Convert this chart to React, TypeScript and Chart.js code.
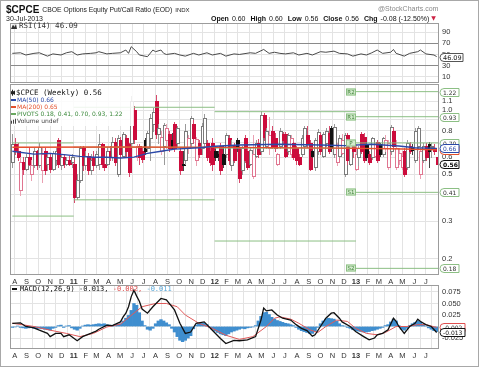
import React, { useEffect, useRef } from "react";
import { Chart, registerables } from "chart.js";

Chart.register(...registerables);

const SANS = '"Liberation Sans", Arial, sans-serif';
const DJ = '"DejaVu Sans", Verdana, sans-serif';
const MONO = '"DejaVu Sans Mono", monospace';

// ---------- DATA ----------
// Weekly candles: week 0 = week of 26-Jul-2010 ... week 157 = week of 29-Jul-2013
const OPEN = [
  0.57, 0.69, 0.64, 0.42, 0.57, 0.53, 0.60, 0.50, 0.55, 0.64,
  0.55, 0.52, 0.64, 0.56, 0.60, 0.53, 0.58, 0.72, 0.55, 0.60,
  0.56, 0.58, 0.57, 0.56, 0.39, 0.47, 0.66, 0.55, 0.61, 0.52,
  0.60, 0.55, 0.56, 0.69, 0.56, 0.56, 0.64, 0.60, 0.71, 0.50,
  0.72, 0.61, 0.74, 0.69, 0.70, 1.00, 0.60, 0.68, 0.64, 0.72,
  0.66, 0.74, 0.86, 1.10, 0.77, 0.64, 0.68, 0.72, 0.77, 0.72,
  0.86, 0.70, 0.64, 0.56, 0.58, 0.66, 0.70, 0.86, 0.58, 0.70,
  0.66, 0.70, 0.70, 0.64, 0.70, 0.64, 0.62, 0.68, 0.62, 0.62,
  0.74, 0.55, 0.68, 0.72, 0.67, 0.52, 0.74, 0.64, 0.56, 0.49,
  0.61, 0.70, 0.64, 0.95, 0.68, 0.66, 0.80, 0.74, 0.56, 0.68,
  0.77, 0.77, 0.64, 0.62, 0.70, 0.66, 0.60, 0.62, 0.68, 0.76,
  0.70, 0.64, 0.54, 0.64, 0.76, 0.61, 0.70, 0.78, 0.82, 0.62,
  0.57, 0.61, 0.63, 0.50, 0.76, 0.56, 0.70, 0.53, 0.60, 0.77,
  0.75, 0.69, 0.62, 0.60, 0.61, 0.71, 0.69, 0.62, 0.66, 0.54,
  0.64, 0.80, 0.54, 0.58, 0.54, 0.64, 0.54, 0.68, 0.67, 0.58,
  0.68, 0.50, 0.58, 0.68, 0.69, 0.66, 0.66, 0.60,
];
const HIGH = [
  0.77, 0.74, 0.70, 0.60, 0.60, 0.62, 0.67, 0.58, 0.66, 0.65,
  0.70, 0.66, 0.66, 0.62, 0.62, 0.64, 0.66, 0.74, 0.62, 0.62,
  0.60, 0.61, 0.62, 0.58, 0.50, 0.68, 0.68, 0.64, 0.63, 0.62,
  0.64, 0.64, 0.77, 0.70, 0.60, 0.67, 0.68, 0.75, 0.74, 0.76,
  0.75, 0.79, 0.76, 0.70, 1.16, 1.05, 0.69, 0.69, 0.66, 0.74,
  0.80, 0.96, 1.02, 1.18, 0.86, 0.80, 0.87, 0.86, 0.80, 0.78,
  0.88, 0.84, 0.66, 0.64, 0.86, 0.76, 0.94, 0.90, 0.75, 0.72,
  0.87, 0.96, 0.72, 0.66, 0.74, 0.66, 0.64, 0.70, 0.68, 0.78,
  0.76, 0.72, 0.70, 0.74, 0.69, 0.68, 0.76, 0.66, 0.67, 0.76,
  0.72, 0.73, 0.99, 0.97, 0.82, 0.93, 0.84, 0.78, 0.63, 0.82,
  0.79, 0.79, 0.78, 0.76, 0.71, 0.68, 0.62, 0.76, 0.84, 0.84,
  0.72, 0.65, 0.74, 0.81, 0.78, 0.79, 0.82, 0.84, 0.84, 0.86,
  0.70, 0.76, 0.77, 0.78, 0.78, 0.72, 0.72, 0.69, 0.68, 0.79,
  0.78, 0.71, 0.64, 0.75, 0.70, 0.72, 0.70, 0.75, 0.76, 0.72,
  0.85, 0.82, 0.72, 0.66, 0.64, 0.66, 0.72, 0.71, 0.69, 0.82,
  0.84, 0.66, 0.70, 0.70, 0.71, 0.70, 0.69, 0.60,
];
const LOW = [
  0.54, 0.62, 0.58, 0.40, 0.50, 0.52, 0.55, 0.47, 0.54, 0.53,
  0.54, 0.46, 0.50, 0.52, 0.51, 0.52, 0.55, 0.54, 0.53, 0.54,
  0.55, 0.55, 0.54, 0.37, 0.38, 0.46, 0.52, 0.53, 0.50, 0.50,
  0.52, 0.54, 0.53, 0.54, 0.52, 0.55, 0.58, 0.58, 0.55, 0.49,
  0.60, 0.60, 0.60, 0.49, 0.68, 0.70, 0.58, 0.56, 0.57, 0.62,
  0.64, 0.58, 0.80, 0.74, 0.70, 0.62, 0.56, 0.66, 0.64, 0.66,
  0.64, 0.68, 0.50, 0.52, 0.56, 0.63, 0.68, 0.70, 0.55, 0.60,
  0.62, 0.66, 0.58, 0.55, 0.52, 0.58, 0.58, 0.50, 0.54, 0.60,
  0.56, 0.52, 0.57, 0.64, 0.46, 0.50, 0.57, 0.53, 0.55, 0.48,
  0.60, 0.60, 0.62, 0.72, 0.66, 0.62, 0.66, 0.64, 0.55, 0.66,
  0.70, 0.60, 0.62, 0.60, 0.59, 0.56, 0.55, 0.61, 0.66, 0.67,
  0.52, 0.60, 0.52, 0.62, 0.62, 0.60, 0.68, 0.63, 0.64, 0.60,
  0.55, 0.60, 0.62, 0.49, 0.56, 0.55, 0.60, 0.52, 0.55, 0.63,
  0.57, 0.58, 0.56, 0.59, 0.60, 0.57, 0.61, 0.61, 0.64, 0.53,
  0.62, 0.66, 0.53, 0.56, 0.53, 0.49, 0.53, 0.63, 0.62, 0.57,
  0.66, 0.48, 0.57, 0.58, 0.54, 0.60, 0.62, 0.56,
];
const CLOSE = [
  0.69, 0.64, 0.60, 0.57, 0.53, 0.60, 0.56, 0.55, 0.64, 0.55,
  0.67, 0.62, 0.52, 0.60, 0.53, 0.63, 0.64, 0.56, 0.60, 0.56,
  0.58, 0.56, 0.60, 0.39, 0.47, 0.66, 0.55, 0.61, 0.52, 0.58,
  0.55, 0.62, 0.69, 0.56, 0.54, 0.64, 0.60, 0.71, 0.57, 0.74,
  0.62, 0.77, 0.64, 0.51, 1.10, 0.73, 0.68, 0.60, 0.59, 0.64,
  0.78, 0.92, 0.98, 0.77, 0.82, 0.75, 0.85, 0.82, 0.66, 0.68,
  0.66, 0.82, 0.52, 0.55, 0.80, 0.74, 0.92, 0.74, 0.73, 0.62,
  0.84, 0.92, 0.60, 0.57, 0.56, 0.60, 0.61, 0.52, 0.56, 0.76,
  0.58, 0.68, 0.58, 0.67, 0.48, 0.66, 0.58, 0.54, 0.65, 0.62,
  0.70, 0.62, 0.95, 0.75, 0.80, 0.76, 0.67, 0.66, 0.62, 0.80,
  0.72, 0.61, 0.76, 0.74, 0.60, 0.58, 0.56, 0.74, 0.82, 0.69,
  0.53, 0.61, 0.72, 0.79, 0.64, 0.77, 0.80, 0.64, 0.66, 0.83,
  0.68, 0.74, 0.72, 0.76, 0.58, 0.70, 0.64, 0.62, 0.66, 0.64,
  0.58, 0.60, 0.57, 0.74, 0.69, 0.58, 0.62, 0.74, 0.72, 0.70,
  0.83, 0.68, 0.66, 0.63, 0.61, 0.50, 0.70, 0.64, 0.65, 0.80,
  0.82, 0.64, 0.68, 0.60, 0.64, 0.68, 0.64, 0.56,
];

// Moving averages (week index, value)
const MA50_WEEK = [0, 8, 14, 20, 25, 30, 35, 40, 45, 50, 55, 60, 69, 75, 84, 99, 114, 123, 133, 143, 149, 157];
const MA50_VAL = [0.64, 0.62, 0.625, 0.615, 0.605, 0.6, 0.6, 0.595, 0.6, 0.625, 0.64, 0.655, 0.665, 0.675, 0.685, 0.69, 0.685, 0.68, 0.69, 0.677, 0.665, 0.66];
const MA200_WEEK = [0, 40, 80, 120, 140, 157];
const MA200_VAL = [0.668, 0.67, 0.667, 0.662, 0.657, 0.65];

// Yearly pivots: 2010, 2011, 2012, 2013
const PIVOT_R2 = [null, null, null, 1.22];
const PIVOT_R1 = [null, 1.03, 0.982, 0.93];
const PIVOT_P = [0.7, 0.668, 0.662, 0.7];
const PIVOT_S1 = [0.317, 0.378, null, 0.41];
const PIVOT_S2 = [null, null, 0.242, 0.18];

// RSI(14)
const RSI_WEEK = [0, 3, 5, 8, 10, 13, 15, 18, 20, 22, 24, 26, 29, 31, 32, 35, 37, 40, 42, 43, 44, 46, 47, 50, 52, 53, 55, 56, 57, 60, 62, 64, 67, 69, 72, 74, 77, 79, 82, 84, 88, 90, 93, 95, 97, 99, 101, 104, 106, 109, 111, 114, 116, 119, 121, 124, 126, 129, 131, 133, 135, 137, 140, 141, 142, 145, 147, 150, 151, 153, 156, 157];
const RSI_VAL = [52, 53, 49, 52, 53, 47, 51, 49, 53, 55, 49, 51, 52, 53, 55, 51, 52, 53, 58, 52, 64, 55, 49, 46, 58, 55, 58, 52, 50, 52, 49, 47, 52, 49, 53, 49, 52, 47, 51, 50, 53, 52, 59, 52, 54, 52, 51, 53, 49, 52, 49, 55, 54, 56, 52, 51, 47, 51, 49, 53, 58, 52, 54, 59, 52, 47, 52, 55, 58, 51, 49, 46.09];

// MACD(12,26,9)
const MACD_WEEK = [0, 3, 5, 8, 10, 13, 14, 16, 18, 19, 21, 24, 26, 29, 31, 32, 35, 37, 40, 41, 42, 43, 44, 45, 46, 47, 48, 50, 52, 55, 57, 60, 62, 64, 66, 68, 71, 72, 74, 77, 79, 82, 84, 87, 90, 92, 93, 94, 96, 98, 100, 103, 105, 107, 109, 111, 112, 114, 116, 118, 119, 121, 122, 125, 127, 130, 132, 134, 135, 137, 139, 141, 142, 143, 145, 147, 149, 150, 151, 153, 155, 157];
const MACD_VAL = [0.007, 0.008, 0, -0.003, -0.008, -0.015, -0.022, -0.015, -0.015, -0.022, -0.018, -0.031, -0.022, -0.015, -0.01, -0.006, 0.003, 0.002, 0.01, 0.021, 0.029, 0.043, 0.065, 0.079, 0.066, 0.055, 0.038, 0.029, 0.043, 0.061, 0.058, 0.036, 0.007, -0.015, -0.012, 0.007, 0.01, 0.004, -0.008, -0.026, -0.037, -0.03, -0.031, -0.029, -0.022, 0.014, 0.04, 0.034, 0.036, 0.025, 0.018, 0.014, 0.004, -0.004, -0.009, -0.021, -0.018, 0, 0.018, 0.029, 0.03, 0.018, 0.01, 0, -0.011, -0.022, -0.029, -0.025, -0.018, -0.015, -0.007, 0.018, 0.011, 0, -0.015, 0, 0.007, 0.016, 0.011, 0.004, 0, -0.013];
const SIGNAL_WEEK = [0, 8, 14, 20, 25, 30, 35, 40, 45, 48, 53, 57, 61, 64, 69, 74, 79, 84, 89, 94, 97, 99, 103, 106, 110, 113, 116, 120, 124, 127, 131, 135, 138, 142, 146, 150, 153, 157];
const SIGNAL_VAL = [0.007, 0, -0.008, -0.015, -0.022, -0.015, -0.001, 0.005, 0.029, 0.043, 0.05, 0.05, 0.043, 0.025, 0.007, -0.004, -0.019, -0.028, -0.022, 0, 0.018, 0.021, 0.016, 0.007, -0.007, -0.013, 0, 0.014, 0.011, -0.004, -0.015, -0.018, -0.013, 0, 0, 0.004, 0.004, -0.002];
const HIST = [
  -0.002, -0.001, 0.001, -0.002, -0.003, -0.004, -0.003, -0.002, -0.004, -0.005,
  -0.004, -0.005, -0.006, -0.007, -0.008, -0.004, -0.002, 0.002, 0.003, -0.002,
  0.001, 0.002, -0.003, -0.006, -0.008, -0.004, 0.001, 0.003, 0.004, 0.003,
  0.004, 0.005, 0.006, 0.005, 0.006, 0.004, 0.003, 0.002, 0.004, 0.005,
  0.006, 0.012, 0.018, 0.024, 0.035, 0.05, 0.046, 0.03, 0.012, 0.002,
  -0.006, -0.008, -0.004, 0.006, 0.012, 0.015, 0.012, 0.008, 0.004, -0.004,
  -0.012, -0.022, -0.03, -0.033, -0.03, -0.025, -0.02, -0.005, 0.003, 0.006,
  0.008, 0.007, 0.004, -0.002, -0.006, -0.01, -0.013, -0.016, -0.018, -0.02,
  -0.016, -0.012, -0.01, -0.008, -0.006, -0.004, -0.005, -0.003, -0.002, -0.001,
  0.002, 0.012, 0.022, 0.03, 0.031, 0.026, 0.02, 0.016, 0.013, 0.011,
  0.009, 0.007, 0.006, 0.004, 0.002, -0.002, -0.006, -0.009, -0.011, -0.013,
  -0.015, -0.015, -0.01, -0.002, 0.006, 0.012, 0.016, 0.018, 0.017, 0.016,
  0.012, 0.006, 0.002, 0.001, -0.002, -0.004, -0.007, -0.009, -0.01, -0.011,
  -0.012, -0.012, -0.011, -0.009, -0.008, -0.006, -0.004, -0.002, 0.002, 0.004,
  0.01, 0.016, 0.012, 0.002, -0.006, -0.008, -0.004, 0.002, 0.006, 0.009,
  0.012, 0.01, 0.004, 0.001, -0.003, -0.006, -0.009, -0.011,
];

// Axis ticks / labels
const MONTH_LABELS = ["A", "S", "O", "N", "D", "11", "F", "M", "A", "M", "J", "J", "A", "S", "O", "N", "D", "12", "F", "M", "A", "M", "J", "J", "A", "S", "O", "N", "D", "13", "F", "M", "A", "M", "J", "J"];
const PRICE_TICKS = [0.2, 0.3, 0.4, 0.5, 0.6, 0.7, 0.8, 0.9, 1.0, 1.1];
const RSI_TICKS = [10, 30, 50, 70, 90];
const MACD_TICKS = [-0.025, 0, 0.025, 0.05, 0.075];

// ---------- helpers ----------
function weekOf(y: number, m: number, d: number) {
  return (Date.UTC(y, m - 1, d) - Date.UTC(2010, 6, 26)) / (7 * 86400000);
}
const X_MIN = weekOf(2010, 7, 20);
const X_MAX = weekOf(2013, 8, 4);
const MONTH_TICKS = MONTH_LABELS.map((_, k) => {
  const m = 7 + k;
  return weekOf(2010 + Math.floor(m / 12), (m % 12) + 1, 1);
});
const YEAR_START = [0, weekOf(2011, 1, 1), weekOf(2012, 1, 1), weekOf(2013, 1, 1)];
const YEAR_END = [weekOf(2011, 1, 1), weekOf(2012, 1, 1), weekOf(2013, 1, 1), X_MAX];

const GRID = "#e3e3e3";
const FRAME = "#9c9c9c";

function xAxis(showLabels: boolean, h: number) {
  return {
    type: "linear",
    min: X_MIN,
    max: X_MAX,
    offset: false,
    afterBuildTicks: (s: any) => {
      s.ticks = MONTH_TICKS.map((v) => ({ value: v }));
    },
    afterFit: (s: any) => {
      s.height = h;
      s.paddingLeft = 0;
      s.paddingRight = 0;
    },
    grid: { color: GRID, drawTicks: false, lineWidth: 1 },
    border: { display: false },
    ticks: {
      display: showLabels,
      autoSkip: false,
      maxRotation: 0,
      minRotation: 0,
      padding: 2,
      color: "#333",
      font: (c: any) => ({ family: SANS, size: 7.5, weight: (MONTH_LABELS[c.index] || "").length > 1 ? "bold" : "normal" }),
      callback: (_v: any, i: number) => MONTH_LABELS[i],
    },
  };
}

function yFit(s: any) {
  s.width = 41;
  s.paddingTop = 0;
  s.paddingBottom = 0;
}

function frame(ctx: CanvasRenderingContext2D, a: any) {
  ctx.save();
  ctx.strokeStyle = FRAME;
  ctx.lineWidth = 1;
  ctx.strokeRect(Math.round(a.left) + 0.5, Math.round(a.top) + 0.5, Math.round(a.right - a.left) - 1, Math.round(a.bottom - a.top) - 1);
  ctx.restore();
}

function pill(ctx: CanvasRenderingContext2D, x: number, yc: number, w: number, text: string, border: string, color: string, font: string) {
  const h = 8;
  const top = Math.round(yc - h / 2) + 0.5;
  const r = h / 2;
  ctx.save();
  ctx.beginPath();
  ctx.moveTo(x + r, top);
  ctx.lineTo(x + w, top);
  ctx.lineTo(x + w, top + h);
  ctx.lineTo(x + r, top + h);
  ctx.arc(x + r, top + r, r, Math.PI / 2, Math.PI * 1.5);
  ctx.closePath();
  ctx.fillStyle = "#fff";
  ctx.fill();
  ctx.strokeStyle = border;
  ctx.lineWidth = 1;
  ctx.stroke();
  ctx.fillStyle = color;
  ctx.font = font;
  ctx.textAlign = "left";
  ctx.textBaseline = "middle";
  ctx.fillText(text, x + 3, top + h / 2 + 0.5);
  ctx.restore();
}

function drawHeader(ctx: CanvasRenderingContext2D) {
  ctx.save();
  ctx.textAlign = "left";
  ctx.textBaseline = "alphabetic";
  ctx.fillStyle = "#111";
  ctx.font = `bold 10px ${SANS}`;
  ctx.fillText("$CPCE", 6, 12.5);
  const tx = 6 + ctx.measureText("$CPCE").width + 3;
  ctx.fillStyle = "#222";
  ctx.font = `6.8px ${SANS}`;
  ctx.fillText("CBOE Options Equity Put/Call Ratio (EOD)", tx, 12);
  const ix = tx + ctx.measureText("CBOE Options Equity Put/Call Ratio (EOD)").width + 3;
  ctx.font = `6px ${SANS}`;
  ctx.fillText("INDX", ix, 12);
  ctx.font = `7px ${SANS}`;
  ctx.fillText("30-Jul-2013", 6, 20.5);
  ctx.fillStyle = "#888";
  ctx.fillText("@StockCharts.com", 378, 11);
  const toks: [string, boolean][] = [
    ["Open", true], ["0.60", false], ["High", true], ["0.60", false], ["Low", true],
    ["0.56", false], ["Close", true], ["0.56", false], ["Chg", true], ["-0.08 (-12.50%)", false],
  ];
  let x = 211;
  ctx.fillStyle = "#111";
  toks.forEach(([t, b]) => {
    ctx.font = `${b ? "bold " : ""}7px ${SANS}`;
    ctx.fillText(t, x, 20.5);
    x += ctx.measureText(t).width + (b ? 3 : 5);
  });
  ctx.fillStyle = "#cc2244";
  ctx.font = `6px ${DJ}`;
  ctx.fillText("▼", x - 3, 20);
  ctx.restore();
}

// ---------- plugins ----------
const rsiPlugin = {
  id: "rsiDeco",
  afterDraw(chart: any) {
    const { ctx, chartArea: a, scales } = chart;
    drawHeader(ctx);
    frame(ctx, a);
    ctx.save();
    const yl = a.top + 3.5;
    ctx.fillStyle = "#333";
    ctx.beginPath();
    ctx.moveTo(11, yl + 2.5);
    ctx.lineTo(13, yl - 2);
    ctx.lineTo(14.5, yl + 0.5);
    ctx.lineTo(16, yl - 2.5);
    ctx.lineTo(17, yl + 2.5);
    ctx.closePath();
    ctx.fill();
    ctx.font = `7.5px ${MONO}`;
    ctx.textBaseline = "middle";
    ctx.fillText("RSI(14) " + RSI_VAL[RSI_VAL.length - 1].toFixed(2), 19, yl);
    ctx.restore();
    pill(ctx, a.right + 1, scales.y.getPixelForValue(RSI_VAL[RSI_VAL.length - 1]), 23, RSI_VAL[RSI_VAL.length - 1].toFixed(2), "#555", "#222", `6.5px ${DJ}`);
  },
};

const candlePlugin = {
  id: "candles",
  beforeDatasetsDraw(chart: any) {
    const { ctx, chartArea: a, scales } = chart;
    const x = scales.x;
    const y = scales.y;
    ctx.save();
    ctx.beginPath();
    ctx.rect(a.left, a.top, a.right - a.left, a.bottom - a.top);
    ctx.clip();
    for (let i = 0; i < CLOSE.length; i++) {
      const o = OPEN[i], c = CLOSE[i], h = HIGH[i], l = LOW[i];
      const prev = i > 0 ? CLOSE[i - 1] : o;
      const up = c >= prev;
      const hollow = c > o;
      const col = up ? (hollow ? "#7a7a7a" : "#111111") : hollow ? "#e07590" : "#cc0c3c";
      const wick = up ? (hollow ? "#9a9a9a" : "#444444") : hollow ? "#eaa0b2" : "#d84a6c";
      const xc = Math.round(x.getPixelForValue(i));
      const yh = Math.round(y.getPixelForValue(h));
      const yl = Math.round(y.getPixelForValue(l));
      const yt = Math.round(y.getPixelForValue(Math.max(o, c)));
      const yb = Math.max(yt + 1, Math.round(y.getPixelForValue(Math.min(o, c))));
      ctx.fillStyle = wick;
      ctx.fillRect(xc, yh, 1, yt - yh);
      ctx.fillRect(xc, yb, 1, yl - yb + 1);
      ctx.fillStyle = col;
      if (hollow && yb - yt >= 3) {
        ctx.fillRect(xc - 1, yt, 4, yb - yt + 1);
        ctx.fillStyle = "#ffffff";
        ctx.fillRect(xc, yt + 1, 2, yb - yt - 1);
      } else {
        ctx.fillRect(xc - 1, yt, 4, yb - yt + 1);
      }
    }
    ctx.restore();
  },
  afterDatasetsDraw(chart: any) {
    const { ctx, chartArea: a } = chart;
    ctx.save();
    ctx.fillStyle = "rgba(255,255,255,0.85)";
    ctx.fillRect(a.left + 1, a.top + 1, 123, 41);
    const L = a.left;
    const rows = [8.7, 16, 23, 30.3, 37.7].map((v) => a.top + v);
    ctx.textBaseline = "middle";
    ctx.textAlign = "left";
    ctx.fillStyle = "#222";
    ctx.fillRect(L + 2, rows[0] - 3, 1, 6);
    ctx.fillRect(L + 1, rows[0] - 1.5, 3, 3);
    ctx.fillRect(L + 4, rows[0] - 2, 1, 4);
    ctx.font = `7.5px ${MONO}`;
    ctx.fillStyle = "#111";
    ctx.fillText("$CPCE (Weekly) " + CLOSE[CLOSE.length - 1].toFixed(2), L + 6, rows[0]);
    const items: [string, string, string][] = [
      ["MA(50) " + MA50_VAL[MA50_VAL.length - 1].toFixed(2), "#2a48a8", "#2a48a8"],
      ["MA(200) " + MA200_VAL[MA200_VAL.length - 1].toFixed(2), "#e4502c", "#e4502c"],
      ["PIVOTS " + [PIVOT_S2[3], PIVOT_S1[3], PIVOT_P[3], PIVOT_R1[3], PIVOT_R2[3]].map((v) => (v as number).toFixed(2)).join(", "), "#6aa860", "#3d8a3d"],
    ];
    ctx.font = `6px ${DJ}`;
    items.forEach(([t, lc, tc], k) => {
      const yy = rows[k + 1];
      ctx.fillStyle = lc;
      ctx.fillRect(L + 1, Math.round(yy) - 1, 5, 2);
      ctx.fillStyle = tc;
      ctx.fillText(t, L + 7, yy);
    });
    ctx.fillStyle = "#444";
    ctx.fillRect(L + 1, rows[4] - 1, 1, 3);
    ctx.fillRect(L + 3, rows[4] - 2, 1, 4);
    ctx.fillRect(L + 5, rows[4] - 3, 1, 5);
    ctx.fillText("Volume undef", L + 7, rows[4]);
    ctx.restore();
  },
  afterDraw(chart: any) {
    const { ctx, chartArea: a, scales } = chart;
    const x = scales.x;
    const y = scales.y;
    frame(ctx, a);
    const xe = x.getPixelForValue(YEAR_START[3]);
    const tags: [string, number | null][] = [["R2", PIVOT_R2[3]], ["R1", PIVOT_R1[3]], ["P", PIVOT_P[3]], ["S1", PIVOT_S1[3]], ["S2", PIVOT_S2[3]]];
    ctx.save();
    tags.forEach(([t, v]) => {
      if (v == null) return;
      const yc = Math.round(y.getPixelForValue(v));
      ctx.fillStyle = "#d3ebcd";
      ctx.fillRect(Math.round(xe) - 10, yc - 3.5, 10, 7);
      ctx.strokeStyle = "#8cbf84";
      ctx.strokeRect(Math.round(xe) - 9.5, yc - 3, 9, 6);
      ctx.fillStyle = "#3d7f36";
      ctx.font = `5.5px ${DJ}`;
      ctx.textAlign = "center";
      ctx.textBaseline = "middle";
      ctx.fillText(t, Math.round(xe) - 5, yc + 0.5);
    });
    ctx.restore();
    const px = a.right + 1;
    const f = `6px ${DJ}`;
    const greens = [PIVOT_R2[3], PIVOT_R1[3], PIVOT_P[3], PIVOT_S1[3], PIVOT_S2[3]];
    greens.forEach((v) => {
      if (v == null) return;
      pill(ctx, px, y.getPixelForValue(v), 19, (v as number).toFixed(2), "#8cbf84", "#333", f);
    });
    const m200 = MA200_VAL[MA200_VAL.length - 1];
    const m50 = MA50_VAL[MA50_VAL.length - 1];
    pill(ctx, px, y.getPixelForValue(m200), 19, m200.toFixed(2), "#e4502c", "#c03a20", f);
    pill(ctx, px, y.getPixelForValue(m50), 19, m50.toFixed(2), "#2a48a8", "#2a48a8", f);
    const cl = CLOSE[CLOSE.length - 1];
    pill(ctx, px, y.getPixelForValue(cl), 19, cl.toFixed(2), "#111", "#000", `bold 6px ${DJ}`);
  },
};

const macdPlugin = {
  id: "macdDeco",
  afterDraw(chart: any) {
    const { ctx, chartArea: a, scales } = chart;
    frame(ctx, a);
    ctx.save();
    const yy = a.top + 3.8;
    ctx.fillStyle = "#111";
    ctx.fillRect(12, Math.round(yy) - 1, 5, 2);
    ctx.font = `7px ${MONO}`;
    ctx.textBaseline = "middle";
    let x = 20;
    const m = MACD_VAL[MACD_VAL.length - 1];
    const s = SIGNAL_VAL[SIGNAL_VAL.length - 1];
    const h = HIST[HIST.length - 1];
    const parts: [string, string][] = [
      ["MACD(12,26,9) " + m.toFixed(3) + ", ", "#111"],
      [s.toFixed(3) + ", ", "#e05050"],
      [h.toFixed(3), "#5aa8d8"],
    ];
    parts.forEach(([t, c]) => {
      ctx.fillStyle = c;
      ctx.fillText(t, x, yy);
      x += ctx.measureText(t).width;
    });
    ctx.restore();
    const y = scales.y;
    pill(ctx, a.right + 1, y.getPixelForValue(s), 25, s.toFixed(3), "#e05050", "#333", `6px ${DJ}`);
    pill(ctx, a.right + 1, y.getPixelForValue(m), 25, m.toFixed(3), "#111", "#111", `6px ${DJ}`);
  },
};

// ---------- charts ----------
function makeRsi(cv: HTMLCanvasElement) {
  return new Chart(cv, {
    type: "line",
    data: {
      datasets: [
        {
          data: RSI_WEEK.map((w, k) => ({ x: w, y: RSI_VAL[k] })),
          borderColor: "#4a4a4a",
          borderWidth: 1,
          pointRadius: 0,
          tension: 0,
        },
      ],
    },
    options: {
      animation: false,
      responsive: false,
      devicePixelRatio: 1,
      events: [],
      layout: { padding: { left: 10, top: 23, right: 0, bottom: 1 }, autoPadding: false },
      plugins: { legend: { display: false }, tooltip: { enabled: false } },
      scales: {
        x: xAxis(false, 0),
        y: {
          position: "right",
          min: -1.44,
          max: 106.7,
          afterBuildTicks: (s: any) => {
            s.ticks = RSI_TICKS.map((v) => ({ value: v }));
          },
          afterFit: yFit,
          grid: {
            drawTicks: false,
            color: (c: any) => (c.tick && (c.tick.value === 30 || c.tick.value === 70) ? "#8a8a8a" : GRID),
          },
          border: { display: false },
          ticks: { padding: 3, color: "#333", font: { family: SANS, size: 7.5 }, callback: (v: any) => String(v) },
        },
      },
    } as any,
    plugins: [rsiPlugin],
  } as any);
}

function seg(vals: (number | null)[], color: string) {
  const out: any[] = [];
  vals.forEach((v, k) => {
    if (v == null) return;
    out.push({
      data: [
        { x: YEAR_START[k], y: v },
        { x: YEAR_END[k], y: v },
      ],
      borderColor: color,
      borderWidth: 1,
      pointRadius: 0,
    });
  });
  return out;
}

function makeMain(cv: HTMLCanvasElement) {
  const pc = "#8cbf84";
  return new Chart(cv, {
    type: "line",
    data: {
      datasets: [
        { data: MA50_WEEK.map((w, k) => ({ x: w, y: MA50_VAL[k] })), borderColor: "#2a48a8", borderWidth: 1.4, pointRadius: 0 },
        { data: MA200_WEEK.map((w, k) => ({ x: w, y: MA200_VAL[k] })), borderColor: "#e4502c", borderWidth: 1.4, pointRadius: 0 },
        ...seg(PIVOT_P, pc),
        ...seg(PIVOT_R1, pc),
        ...seg(PIVOT_R2, pc),
        ...seg(PIVOT_S1, pc),
        ...seg(PIVOT_S2, pc),
      ],
    },
    options: {
      animation: false,
      responsive: false,
      devicePixelRatio: 1,
      events: [],
      layout: { padding: { left: 10, top: 0, right: 0, bottom: 0 }, autoPadding: false },
      plugins: { legend: { display: false }, tooltip: { enabled: false } },
      scales: {
        x: xAxis(true, 10),
        y: {
          type: "logarithmic",
          position: "right",
          min: 0.1675,
          max: 1.3253,
          afterBuildTicks: (s: any) => {
            s.ticks = PRICE_TICKS.map((v) => ({ value: v }));
          },
          afterFit: yFit,
          grid: { drawTicks: false, color: GRID },
          border: { display: false },
          ticks: { padding: 3, color: "#333", font: { family: SANS, size: 7.5 }, callback: (v: any) => Number(v).toFixed(1) },
        },
      },
    } as any,
    plugins: [candlePlugin],
  } as any);
}

function makeMacd(cv: HTMLCanvasElement) {
  return new Chart(cv, {
    type: "bar",
    data: {
      datasets: [
        { type: "line", data: MACD_WEEK.map((w, k) => ({ x: w, y: MACD_VAL[k] })), borderColor: "#111", borderWidth: 1.3, pointRadius: 0 },
        { type: "line", data: SIGNAL_WEEK.map((w, k) => ({ x: w, y: SIGNAL_VAL[k] })), borderColor: "#e05a5a", borderWidth: 1, pointRadius: 0 },
        { type: "bar", data: HIST.map((v, i) => ({ x: i, y: v })), backgroundColor: "#3f8ecf", barPercentage: 1, categoryPercentage: 1, borderWidth: 0 },
      ],
    },
    options: {
      animation: false,
      responsive: false,
      devicePixelRatio: 1,
      events: [],
      layout: { padding: { left: 10, top: 0, right: 0, bottom: 7 }, autoPadding: false },
      plugins: { legend: { display: false }, tooltip: { enabled: false } },
      scales: {
        x: xAxis(true, 12),
        y: {
          position: "right",
          min: -0.0489,
          max: 0.0902,
          afterBuildTicks: (s: any) => {
            s.ticks = MACD_TICKS.map((v) => ({ value: v }));
          },
          afterFit: yFit,
          grid: { drawTicks: false, color: GRID },
          border: { display: false },
          ticks: { padding: 3, color: "#333", font: { family: SANS, size: 7.5 }, callback: (v: any) => Number(v).toFixed(3) },
        },
      },
    } as any,
    plugins: [macdPlugin],
  } as any);
}

export default function App() {
  const r1 = useRef<HTMLCanvasElement>(null);
  const r2 = useRef<HTMLCanvasElement>(null);
  const r3 = useRef<HTMLCanvasElement>(null);
  useEffect(() => {
    const charts = [makeRsi(r1.current!), makeMain(r2.current!), makeMacd(r3.current!)];
    return () => charts.forEach((c) => c.destroy());
  }, []);
  const abs = (top: number, h: number): React.CSSProperties => ({ position: "absolute", left: 0, top, width: 480, height: h });
  return (
    <div style={{ position: "absolute", left: 0, top: 0, width: 480, height: 368, background: "#fff", overflow: "hidden" }}>
      <div style={{ position: "absolute", left: 0, top: 0, width: 479, height: 367, border: "1px solid #a8a8a8", boxSizing: "border-box" }} />
      <canvas ref={r1} width={480} height={84} style={abs(0, 84)} />
      <canvas ref={r2} width={480} height={201} style={abs(84, 201)} />
      <canvas ref={r3} width={480} height={83} style={abs(285, 83)} />
    </div>
  );
}
